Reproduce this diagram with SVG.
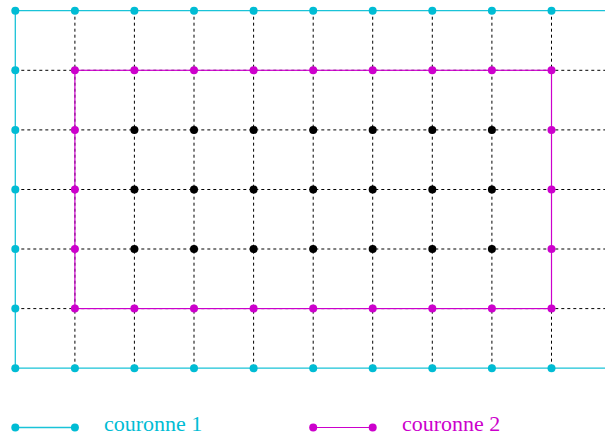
<svg xmlns="http://www.w3.org/2000/svg" width="605" height="436" viewBox="0 0 605 436">
<style>
.dash{stroke:#000;stroke-width:1;stroke-dasharray:3,3;fill:none}
.cy{stroke:#1ac3d8;stroke-width:1.3;fill:none}
.mg{stroke:#cc00cc;stroke-width:1.2;fill:none}
.dc{fill:#00bcd4}
.dm{fill:#cc00cc}
.dk{fill:#000}
.lbl{font-family:"Liberation Serif",serif;font-size:22px}
</style>
<rect width="605" height="436" fill="#fff"/>
<g id="connectors">
<g id="grid">
<path class="dash" d="M15.3 70.3H605M15.3 129.9H605M15.3 189.5H605M15.3 249H605M15.3 308.6H605"/>
<path class="dash" d="M74.9 10.7V368.2M134.4 10.7V368.2M194 10.7V368.2M253.6 10.7V368.2M313.2 10.7V368.2M372.7 10.7V368.2M432.3 10.7V368.2M491.9 10.7V368.2M551.5 10.7V368.2"/>
</g>
<path id="couronne1" class="cy" d="M605 10.7H15.3V368.2H605"/>
<rect id="couronne2" class="mg" x="74.9" y="70.3" width="476.6" height="238.3"/>
</g>
<g id="cyan-nodes" class="dc">
<circle cx="15.3" cy="10.7" r="4"/><circle cx="74.9" cy="10.7" r="4"/><circle cx="134.4" cy="10.7" r="4"/><circle cx="194" cy="10.7" r="4"/><circle cx="253.6" cy="10.7" r="4"/><circle cx="313.2" cy="10.7" r="4"/><circle cx="372.7" cy="10.7" r="4"/><circle cx="432.3" cy="10.7" r="4"/><circle cx="491.9" cy="10.7" r="4"/><circle cx="551.5" cy="10.7" r="4"/>
<circle cx="15.3" cy="368.2" r="4"/><circle cx="74.9" cy="368.2" r="4"/><circle cx="134.4" cy="368.2" r="4"/><circle cx="194" cy="368.2" r="4"/><circle cx="253.6" cy="368.2" r="4"/><circle cx="313.2" cy="368.2" r="4"/><circle cx="372.7" cy="368.2" r="4"/><circle cx="432.3" cy="368.2" r="4"/><circle cx="491.9" cy="368.2" r="4"/><circle cx="551.5" cy="368.2" r="4"/>
<circle cx="15.3" cy="70.3" r="4"/><circle cx="15.3" cy="129.9" r="4"/><circle cx="15.3" cy="189.5" r="4"/><circle cx="15.3" cy="249" r="4"/><circle cx="15.3" cy="308.6" r="4"/>
</g>
<g id="magenta-nodes" class="dm">
<circle cx="74.9" cy="70.3" r="4"/><circle cx="134.4" cy="70.3" r="4"/><circle cx="194" cy="70.3" r="4"/><circle cx="253.6" cy="70.3" r="4"/><circle cx="313.2" cy="70.3" r="4"/><circle cx="372.7" cy="70.3" r="4"/><circle cx="432.3" cy="70.3" r="4"/><circle cx="491.9" cy="70.3" r="4"/><circle cx="551.5" cy="70.3" r="4"/>
<circle cx="74.9" cy="308.6" r="4"/><circle cx="134.4" cy="308.6" r="4"/><circle cx="194" cy="308.6" r="4"/><circle cx="253.6" cy="308.6" r="4"/><circle cx="313.2" cy="308.6" r="4"/><circle cx="372.7" cy="308.6" r="4"/><circle cx="432.3" cy="308.6" r="4"/><circle cx="491.9" cy="308.6" r="4"/><circle cx="551.5" cy="308.6" r="4"/>
<circle cx="74.9" cy="129.9" r="4"/><circle cx="74.9" cy="189.5" r="4"/><circle cx="74.9" cy="249" r="4"/>
<circle cx="551.5" cy="129.9" r="4"/><circle cx="551.5" cy="189.5" r="4"/><circle cx="551.5" cy="249" r="4"/>
</g>
<g id="inner-nodes" class="dk">
<circle cx="134.4" cy="129.9" r="4"/><circle cx="194" cy="129.9" r="4"/><circle cx="253.6" cy="129.9" r="4"/><circle cx="313.2" cy="129.9" r="4"/><circle cx="372.7" cy="129.9" r="4"/><circle cx="432.3" cy="129.9" r="4"/><circle cx="491.9" cy="129.9" r="4"/>
<circle cx="134.4" cy="189.5" r="4"/><circle cx="194" cy="189.5" r="4"/><circle cx="253.6" cy="189.5" r="4"/><circle cx="313.2" cy="189.5" r="4"/><circle cx="372.7" cy="189.5" r="4"/><circle cx="432.3" cy="189.5" r="4"/><circle cx="491.9" cy="189.5" r="4"/>
<circle cx="134.4" cy="249" r="4"/><circle cx="194" cy="249" r="4"/><circle cx="253.6" cy="249" r="4"/><circle cx="313.2" cy="249" r="4"/><circle cx="372.7" cy="249" r="4"/><circle cx="432.3" cy="249" r="4"/><circle cx="491.9" cy="249" r="4"/>
</g>
<g id="legend1">
<line class="cy" x1="15.3" y1="427.5" x2="74.9" y2="427.5"/>
<circle class="dc" cx="15.3" cy="427.5" r="4"/><circle class="dc" cx="74.9" cy="427.5" r="4"/>
<text class="lbl" x="104" y="431" fill="#00bcd4">couronne 1</text>
</g>
<g id="legend2">
<line class="mg" x1="313.2" y1="427.5" x2="372.7" y2="427.5"/>
<circle class="dm" cx="313.2" cy="427.5" r="4"/><circle class="dm" cx="372.7" cy="427.5" r="4"/>
<text class="lbl" x="402" y="431" fill="#cc00cc">couronne 2</text>
</g>
</svg>
